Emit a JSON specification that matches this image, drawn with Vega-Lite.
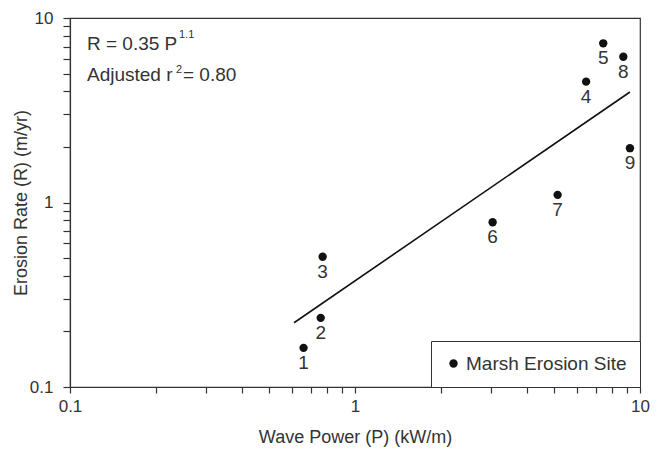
{
  "$schema": "https://vega.github.io/schema/vega-lite/v6.json",
  "width": 570,
  "height": 369,
  "autosize": {"type": "none"},
  "padding": {"left": 70, "top": 18, "right": 20, "bottom": 62},
  "background": "white",
  "config": {
    "font": "Liberation Sans",
    "view": {"stroke": "#333", "strokeWidth": 1.2},
    "axis": {
      "grid": false,
      "domainColor": "#333",
      "tickColor": "#333",
      "labelColor": "#333",
      "titleColor": "#333",
      "labelFontSize": 17,
      "titleFontSize": 18,
      "titleFontWeight": "normal",
      "domainWidth": 1.2,
      "tickWidth": 1.2
    },
    "legend": {"labelColor": "#333"}
  },
  "datasets": {
    "sites": [
      {"site": "1", "P": 0.66, "R": 0.163},
      {"site": "2", "P": 0.758, "R": 0.237},
      {"site": "3", "P": 0.77, "R": 0.508},
      {"site": "4", "P": 6.47, "R": 4.52},
      {"site": "5", "P": 7.43, "R": 7.29},
      {"site": "6", "P": 3.04, "R": 0.781},
      {"site": "7", "P": 5.14, "R": 1.1},
      {"site": "8", "P": 8.74, "R": 6.17},
      {"site": "9", "P": 9.22, "R": 1.97}
    ],
    "fit": [
      {"P": 0.611, "R": 0.223},
      {"P": 9.22, "R": 3.97}
    ],
    "eq1": [{"P": 0.1147, "R": 6.71}],
    "eq2": [{"P": 0.1147, "R": 4.555}]
  },
  "layer": [
    {
      "data": {"name": "fit"},
      "mark": {"type": "line", "color": "#111", "strokeWidth": 1.6},
      "encoding": {
        "x": {
          "field": "P", "type": "quantitative",
          "scale": {"type": "log", "domain": [0.1, 10], "nice": false},
          "axis": {
            "title": "Wave Power (P) (kW/m)",
            "values": [0.1, 0.2, 0.3, 0.4, 0.5, 0.6, 0.7, 0.8, 0.9, 1, 2, 3, 4, 5, 6, 7, 8, 9, 10],
            "labelExpr": "datum.value == 0.1 ? '0.1' : datum.value == 1 ? '1' : datum.value == 10 ? '10' : ''",
            "tickSize": 6,
            "labelPadding": 5,
            "titlePadding": 14,
            "labelFlush": false,
            "labelOverlap": false
          }
        },
        "y": {
          "field": "R", "type": "quantitative",
          "scale": {"type": "log", "domain": [0.1, 10], "nice": false},
          "axis": {
            "title": "Erosion Rate (R) (m/yr)",
            "values": [0.1, 0.2, 0.3, 0.4, 0.5, 0.6, 0.7, 0.8, 0.9, 1, 2, 3, 4, 5, 6, 7, 8, 9, 10],
            "labelExpr": "datum.value == 0.1 ? '0.1' : datum.value == 1 ? '1' : datum.value == 10 ? '10' : ''",
            "tickSize": 7,
            "labelPadding": 10,
            "titlePadding": -1,
            "labelFlush": false,
            "labelOverlap": false
          }
        }
      }
    },
    {
      "data": {"name": "sites"},
      "mark": {"type": "point", "filled": true, "shape": "circle", "size": 70, "opacity": 1},
      "encoding": {
        "x": {"field": "P", "type": "quantitative"},
        "y": {"field": "R", "type": "quantitative"},
        "color": {
          "datum": "Marsh Erosion Site",
          "type": "nominal",
          "scale": {"range": ["#111"]},
          "legend": {
            "title": null,
            "orient": "bottom-right",
            "offset": 0,
            "padding": 13,
            "strokeColor": "#333",
            "fillColor": "white",
            "labelFontSize": 19,
            "labelOffset": 3,
            "labelLimit": 300,
            "symbolSize": 70,
            "symbolType": "circle",
            "symbolOpacity": 1,
            "labelColor": "#333"
          }
        }
      }
    },
    {
      "data": {"name": "sites"},
      "mark": {"type": "text", "fontSize": 19, "dy": 15, "baseline": "middle", "align": "center", "color": "#333"},
      "encoding": {
        "x": {"field": "P", "type": "quantitative"},
        "y": {"field": "R", "type": "quantitative"},
        "text": {"field": "site"}
      }
    },
    {
      "data": {"name": "eq1"},
      "mark": {"type": "text", "fontSize": 19, "align": "left", "baseline": "alphabetic", "color": "#333", "text": "R = 0.35 P"},
      "encoding": {
        "x": {"field": "P", "type": "quantitative"},
        "y": {"field": "R", "type": "quantitative"}
      }
    },
    {
      "data": {"name": "eq1"},
      "mark": {"type": "text", "fontSize": 11, "align": "left", "baseline": "alphabetic", "color": "#333", "text": "1.1", "dx": 92, "dy": -12},
      "encoding": {
        "x": {"field": "P", "type": "quantitative"},
        "y": {"field": "R", "type": "quantitative"}
      }
    },
    {
      "data": {"name": "eq2"},
      "mark": {"type": "text", "fontSize": 19, "align": "left", "baseline": "alphabetic", "color": "#333", "text": "Adjusted r"},
      "encoding": {
        "x": {"field": "P", "type": "quantitative"},
        "y": {"field": "R", "type": "quantitative"}
      }
    },
    {
      "data": {"name": "eq2"},
      "mark": {"type": "text", "fontSize": 11, "align": "left", "baseline": "alphabetic", "color": "#333", "text": "2", "dx": 89, "dy": -8},
      "encoding": {
        "x": {"field": "P", "type": "quantitative"},
        "y": {"field": "R", "type": "quantitative"}
      }
    },
    {
      "data": {"name": "eq2"},
      "mark": {"type": "text", "fontSize": 19, "align": "left", "baseline": "alphabetic", "color": "#333", "text": "= 0.80", "dx": 96},
      "encoding": {
        "x": {"field": "P", "type": "quantitative"},
        "y": {"field": "R", "type": "quantitative"}
      }
    }
  ]
}
